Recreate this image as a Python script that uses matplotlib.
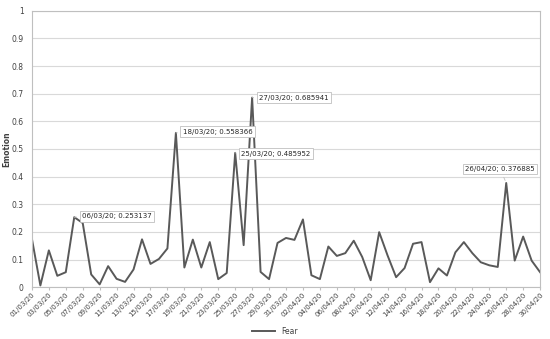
import matplotlib.pyplot as plt
import pandas as pd

# Daily "Fear" emotion score, 01/03/20 - 30/04/20
dates = pd.date_range("2020-03-01", "2020-04-30", freq="D")
fear = [
    0.175, 0.006, 0.133, 0.041, 0.054, 0.253137, 0.232, 0.046, 0.010, 0.076,
    0.030, 0.019, 0.064, 0.173, 0.084, 0.102, 0.140, 0.558366, 0.071, 0.172,
    0.071, 0.163, 0.029, 0.051, 0.485952, 0.152, 0.685941, 0.055, 0.029, 0.160,
    0.178, 0.171, 0.245, 0.043, 0.029, 0.147, 0.113, 0.123, 0.168, 0.109,
    0.025, 0.199, 0.114, 0.036, 0.069, 0.157, 0.163, 0.018, 0.068, 0.042,
    0.126, 0.163, 0.123, 0.090, 0.079, 0.073, 0.376885, 0.096, 0.183, 0.096,
    0.054,
]
etiquetas = [d.strftime("%d/%m/%y") for d in dates]

# puntos anotados: indice y desplazamiento de la caja (px)
anotaciones = {5: (8, 1), 17: (7, 1), 24: (6, -1), 26: (7, 0), 56: (-6, 11)}

fig = plt.figure(figsize=(5.5, 3.39), dpi=100)
ax = fig.add_axes([0.058, 0.153, 0.924, 0.815])

x = list(range(len(fear)))
ax.plot(x, fear, color="#595959", lw=1.4, label="Fear")

ax.set_xlim(0, len(fear) - 1)
ax.set_ylim(0, 1)
ax.set_yticks([i / 10 for i in range(11)])
ax.set_yticklabels(["0"] + [f"{i / 10:.1f}" for i in range(1, 10)] + ["1"])
ax.set_xticks(x[::2])
ax.set_xticklabels(etiquetas[::2], rotation=45, ha="right", rotation_mode="anchor")
ax.tick_params(axis="x", labelsize=5, length=2, color="#bfbfbf", pad=1, colors="#404040")
ax.tick_params(axis="y", labelsize=5.5, length=0, pad=6, colors="#404040")
ax.grid(axis="y", color="#d9d9d9", lw=0.8)
ax.set_axisbelow(True)
for s in ax.spines.values():
    s.set_color("#bfbfbf")
    s.set_linewidth(0.8)

ax.set_ylabel("Emotion", fontsize=5.5, fontweight="bold", color="#404040")
ax.yaxis.set_label_coords(-0.04, 0.5)

for i, (dx, dy) in anotaciones.items():
    ax.annotate(f"{etiquetas[i]}; {fear[i]:g}", xy=(i, fear[i]),
                xytext=(dx, dy), textcoords="offset pixels",
                fontsize=5, color="#262626",
                va="center" if dx > 0 else "bottom",
                ha="left" if dx > 0 else "center",
                bbox=dict(boxstyle="square,pad=0.35", fc="white", ec="#bfbfbf", lw=0.6),
                arrowprops=dict(arrowstyle="-", color="#bfbfbf", lw=0.6))

fig.legend(loc="lower center", bbox_to_anchor=(0.5, -0.01), frameon=False,
           fontsize=5.5, handlelength=3, labelcolor="#404040")

fig.savefig("out.png", dpi=100)
